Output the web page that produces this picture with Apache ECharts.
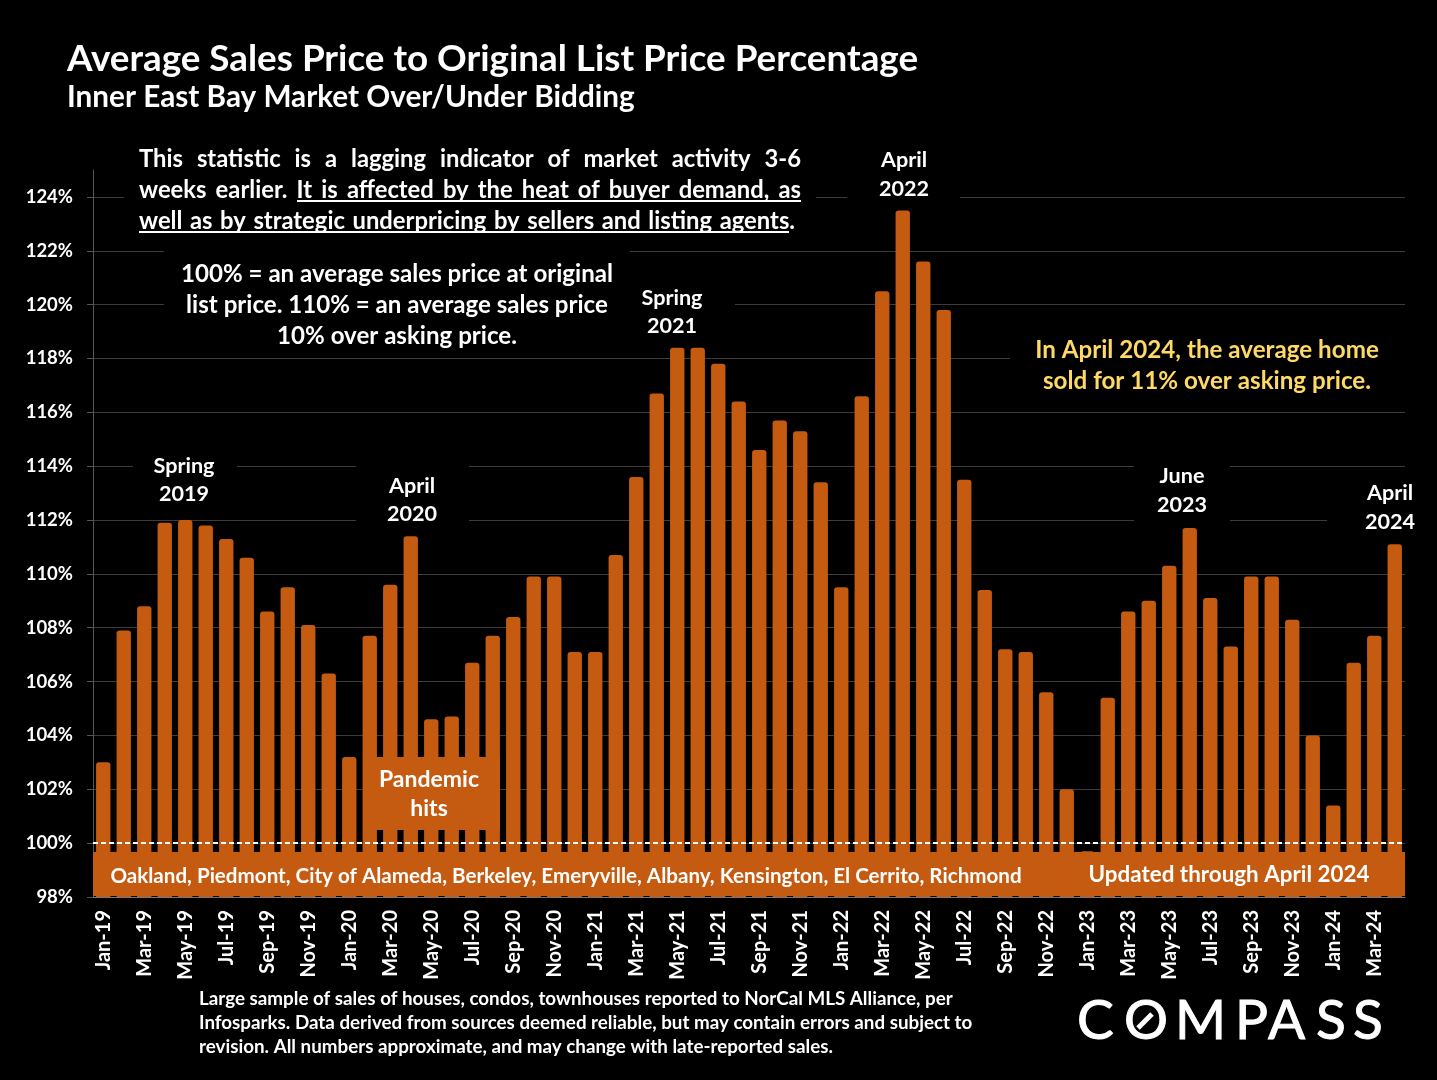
<!DOCTYPE html>
<html>
<head>
<meta charset="utf-8">
<title>Average Sales Price to Original List Price Percentage</title>
<script src="https://cdn.jsdelivr.net/npm/echarts@6/dist/echarts.min.js"></script>
<style>
  html, body { margin: 0; background: #000; }
  #chart { width: 1437px; height: 1080px; }
</style>
</head>
<body>
<div id="chart"></div>
<script>
const months = [
  'Jan-19', 'Feb-19', 'Mar-19', 'Apr-19', 'May-19', 'Jun-19', 'Jul-19', 'Aug-19', 'Sep-19', 'Oct-19', 'Nov-19', 'Dec-19',
  'Jan-20', 'Feb-20', 'Mar-20', 'Apr-20', 'May-20', 'Jun-20', 'Jul-20', 'Aug-20', 'Sep-20', 'Oct-20', 'Nov-20', 'Dec-20',
  'Jan-21', 'Feb-21', 'Mar-21', 'Apr-21', 'May-21', 'Jun-21', 'Jul-21', 'Aug-21', 'Sep-21', 'Oct-21', 'Nov-21', 'Dec-21',
  'Jan-22', 'Feb-22', 'Mar-22', 'Apr-22', 'May-22', 'Jun-22', 'Jul-22', 'Aug-22', 'Sep-22', 'Oct-22', 'Nov-22', 'Dec-22',
  'Jan-23', 'Feb-23', 'Mar-23', 'Apr-23', 'May-23', 'Jun-23', 'Jul-23', 'Aug-23', 'Sep-23', 'Oct-23', 'Nov-23', 'Dec-23',
  'Jan-24', 'Feb-24', 'Mar-24', 'Apr-24',
];
const salePct = [
  103.0, 107.9, 108.8, 111.9, 112.0, 111.8, 111.3, 110.6, 108.6, 109.5, 108.1, 106.3,
  103.2, 107.7, 109.6, 111.4, 104.6, 104.7, 106.7, 107.7, 108.4, 109.9, 109.9, 107.1,
  107.1, 110.7, 113.6, 116.7, 118.4, 118.4, 117.8, 116.4, 114.6, 115.7, 115.3, 113.4,
  109.5, 116.6, 120.5, 123.5, 121.6, 119.8, 113.5, 109.4, 107.2, 107.1, 105.6, 102.0,
  99.7, 105.4, 108.6, 109.0, 110.3, 111.7, 109.1, 107.3, 109.9, 109.9, 108.3, 104.0,
  101.4, 106.7, 107.7, 111.1,
];

const FONT = 'Lato';
const ORANGE = '#C55A11';
const ctx = document.createElement('canvas').getContext('2d');

function label(text, x, y, size, opts = {}) {
  return {
    type: 'text',
    x, y,
    z: 10,
    style: {
      text,
      fill: opts.fill || '#fff',
      font: `${opts.weight || 'bold'} ${size}px ${FONT}`,
      align: opts.align || 'center',
      verticalAlign: 'middle',
      stroke: opts.stroke,
      lineWidth: opts.stroke ? 1 : 0,
    },
  };
}

function mask(x, y, width, height, fill = '#000', z = 1) {
  return { type: 'rect', z, shape: { x, y, width, height }, style: { fill } };
}

// lays the words of a line out so they fill x0..x1
function justified(line, x0, x1, y, size) {
  ctx.font = `bold ${size}px ${FONT}`;
  const words = line.split(' ');
  const used = words.reduce((sum, w) => sum + ctx.measureText(w).width, 0);
  const gap = (x1 - x0 - used) / (words.length - 1);
  let x = x0;
  return words.map((w) => {
    const el = label(w, x, y, size, { align: 'left' });
    x += ctx.measureText(w).width + gap;
    return el;
  });
}

function underline(x1, x2, y) {
  return { type: 'line', z: 10, shape: { x1, y1: y, x2, y2: y }, style: { stroke: '#fff', lineWidth: 2 } };
}

const masks = [
  [124, 144, 692, 92],
  [164, 240, 466, 110],
  [610, 285, 125, 55],
  [847, 145, 113, 60],
  [133, 452, 104, 20],
  [356, 460, 113, 70],
  [1010, 335, 395, 60],
  [1134, 460, 96, 70],
  [1327, 500, 78, 30],
].map(([x, y, w, h]) => mask(x, y, w, h));

const callouts = [
  ['Spring', 184, 466], ['2019', 184, 494],
  ['April', 412, 486], ['2020', 412, 514],
  ['Spring', 672, 298], ['2021', 672, 326],
  ['April', 904, 160], ['2022', 904, 189],
  ['June', 1182, 476], ['2023', 1182, 505],
  ['April', 1390, 493], ['2024', 1390, 522],
].map(([t, x, y]) => label(t, x, y, 21.6));

const notes = [
  ['100% = an average sales price at original', 397, 274],
  ['list price. 110% = an average sales price', 397, 305],
  ['10% over asking price.', 397, 336],
].map(([t, x, y]) => label(t, x, y, 24.1));

const highlight = [
  ['In April 2024, the average home', 1207, 350],
  ['sold for 11% over asking price.', 1207, 381],
].map(([t, x, y]) => label(t, x, y, 24.2, { fill: '#FFD966' }));

const footnote = [
  'Large sample of sales of houses, condos, townhouses reported to NorCal MLS Alliance, per',
  'Infosparks. Data derived from sources deemed reliable, but may contain errors and subject to',
  'revision. All numbers approximate, and may change with late-reported sales.',
].map((t, i) => label(t, 199, 999 + i * 24, 18.8, { align: 'left' }));

const logo = [['C', 1077], ['O', 1124], ['M', 1175], ['P', 1235], ['A', 1268], ['S', 1316], ['S', 1353]]
  .map(([t, x]) => label(t, x, 1021, 55, { align: 'left', weight: 'normal', stroke: '#fff' }));

const chart = echarts.init(document.getElementById('chart'));

chart.setOption({
  animation: false,
  backgroundColor: '#000',
  textStyle: { fontFamily: FONT },
  title: {
    text: 'Average Sales Price to Original List Price Percentage',
    subtext: 'Inner East Bay Market Over/Under Bidding',
    left: 62,
    top: 36,
    itemGap: 4,
    textStyle: { color: '#fff', fontFamily: FONT, fontWeight: 'bold', fontSize: 36.8 },
    subtextStyle: { color: '#fff', fontFamily: FONT, fontWeight: 'bold', fontSize: 29.7 },
  },
  grid: { left: 93, right: 32, top: 170, bottom: 183 },
  xAxis: {
    type: 'category',
    data: months,
    axisLine: { lineStyle: { color: '#777' } },
    axisTick: { interval: 1, length: 7, lineStyle: { color: '#777' } },
    axisLabel: {
      interval: 1,
      rotate: 90,
      margin: 13,
      padding: [3, 0, 0, 0],
      color: '#fff',
      fontFamily: FONT,
      fontWeight: 'bold',
      fontSize: 20,
    },
  },
  yAxis: {
    type: 'value',
    min: 98,
    max: 125,
    interval: 2,
    axisLine: { show: true, lineStyle: { color: '#555' } },
    axisTick: { show: true, length: 6, lineStyle: { color: '#555' } },
    axisLabel: {
      margin: 20,
      showMaxLabel: false,
      color: '#fff',
      fontFamily: FONT,
      fontWeight: 'bold',
      fontSize: 18.5,
      formatter: '{value}%',
    },
    splitLine: { showMaxLine: false, lineStyle: { color: '#3c3c3c' } },
  },
  series: [
    {
      type: 'bar',
      data: salePct,
      barWidth: '70%',
      itemStyle: { color: ORANGE, borderRadius: [3, 3, 0, 0] },
      markArea: {
        silent: true,
        itemStyle: { color: ORANGE },
        data: [[{ yAxis: 98.04 }, { yAxis: 99.67 }]],
      },
      markLine: {
        silent: true,
        symbol: 'none',
        label: { show: false },
        lineStyle: { color: '#fff', type: [5, 3], width: 2 },
        data: [{ yAxis: 100 }],
      },
    },
  ],
  graphic: {
    elements: [
      ...masks,
      mask(363, 757, 137, 73, ORANGE, 5),
      label('Pandemic', 429, 780, 23),
      label('hits', 429, 809, 23),
      ...justified('This statistic is a lagging indicator of market activity 3-6', 139, 801, 159, 23.8),
      ...justified('weeks earlier. It is affected by the heat of buyer demand, as', 139, 801, 190, 23.8),
      ...justified('well as by strategic underpricing by sellers and listing agents.', 139, 795, 221, 23.8),
      underline(297, 801, 201),
      underline(139, 789, 232),
      ...notes,
      ...highlight,
      ...callouts,
      label('Oakland, Piedmont, City of Alameda, Berkeley, Emeryville, Albany, Kensington, El Cerrito, Richmond', 566, 876, 20.6),
      label('Updated through April 2024', 1229, 875, 22.4),
      ...footnote,
      ...logo,
      { type: 'line', z: 10, shape: { x1: 1138, y1: 1028, x2: 1152, y2: 1014 }, style: { stroke: '#fff', lineWidth: 5 } },
    ],
  },
});

window.addEventListener('resize', () => chart.resize(), { passive: true });
</script>
</body>
</html>
